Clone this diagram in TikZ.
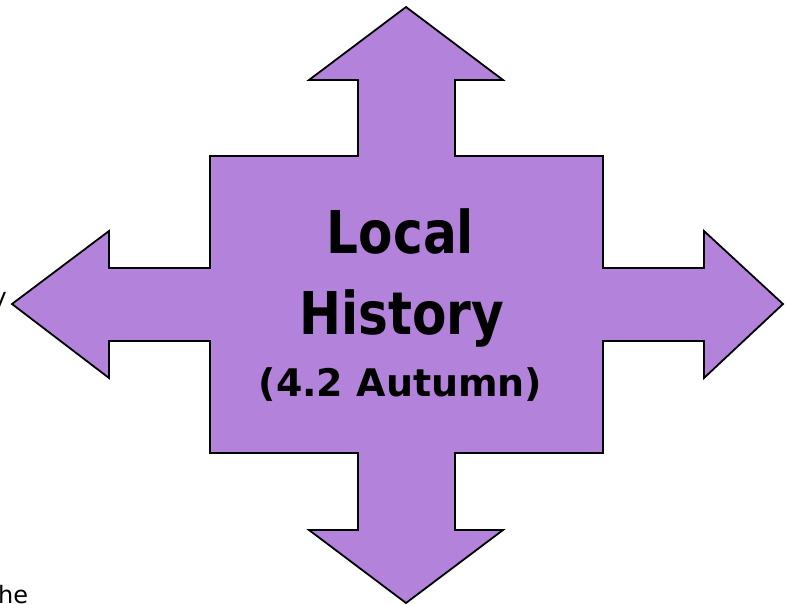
\documentclass[tikz,border=0pt]{standalone}
\usepackage{fontspec}
\usepackage{graphicx}
\setmainfont{DejaVu Sans}
\definecolor{lilac}{RGB}{179,131,219}
\tikzset{
  arrowshape/.style={fill=lilac, draw=black, line width=1.8pt, line join=miter},
  bigtext/.style={inner sep=0pt, anchor=base, font=\fontsize{59}{59}\selectfont\bfseries},
  subtext/.style={inner sep=0pt, anchor=base, font=\fontsize{38}{38}\selectfont\bfseries},
  edgetext/.style={inner sep=0pt, font=\fontsize{24}{24}\selectfont}
}
\begin{document}
\begin{tikzpicture}[x=1pt,y=-1pt]
\useasboundingbox (0,0) rectangle (785,605);
\fill[white] (0,0) rectangle (785,605);
\draw[arrowshape]
  (406,7) -- (503,80) -- (455,80) -- (455,156) -- (603,156) -- (603,268)
  -- (704,268) -- (704,231) -- (783,304) -- (704,378) -- (704,341) -- (603,341)
  -- (603,453) -- (455,453) -- (455,530) -- (503,530) -- (406,603) -- (309,530)
  -- (358,530) -- (358,453) -- (210,453) -- (210,341) -- (109,341) -- (109,378)
  -- (12,304) -- (109,231) -- (109,268) -- (210,268) -- (210,156) -- (358,156)
  -- (358,80) -- (309,80) -- cycle;
\node[bigtext] (local) at (400.5,253) {\scalebox{0.85}[1]{Local}};
\node[bigtext] (history) at (401.5,334) {\scalebox{0.85}[1]{History}};
\node[subtext] (autumn) at (400.5,396) {(4.2 Autumn)};
\node[edgetext, anchor=base east] (ylet) at (7,305) {y};
\node[edgetext, anchor=base west] (he) at (-2,603) {he};
\end{tikzpicture}
\end{document}
